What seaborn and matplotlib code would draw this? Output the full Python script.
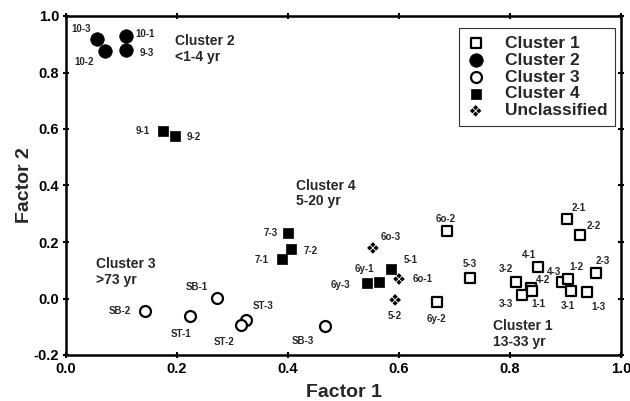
import numpy as np
import pandas as pd
import matplotlib
matplotlib.use("Agg")
import matplotlib.pyplot as plt
from matplotlib.path import Path
import seaborn as sns

# sample scores on the two factors
samples = ['10-3', '10-2', '10-1', '9-3',
           '9-1', '9-2', '7-3', '7-2', '7-1', '6y-3', '6y-1', '5-1',
           '6o-3', '6o-1', '5-2',
           'SB-2', 'ST-1', 'SB-1', 'ST-3', 'ST-2', 'SB-3',
           '6o-2', '2-1', '2-2', '5-3', '6y-2', '4-1', '3-2', '4-2', '3-3',
           '1-1', '4-3', '1-2', '3-1', '1-3', '2-3']
factor1 = [0.055, 0.070, 0.108, 0.109,
           0.175, 0.196, 0.400, 0.405, 0.389, 0.542, 0.564, 0.586,
           0.553, 0.600, 0.593,
           0.142, 0.223, 0.272, 0.324, 0.315, 0.467,
           0.686, 0.903, 0.926, 0.728, 0.668, 0.850, 0.811, 0.838, 0.822,
           0.840, 0.894, 0.905, 0.910, 0.939, 0.955]
factor2 = [0.917, 0.876, 0.930, 0.880,
           0.593, 0.575, 0.232, 0.175, 0.140, 0.055, 0.058, 0.104,
           0.179, 0.069, -0.005,
           -0.044, -0.062, 0.002, -0.076, -0.094, -0.097,
           0.239, 0.281, 0.225, 0.073, -0.012, 0.111, 0.058, 0.037, 0.012,
           0.027, 0.058, 0.069, 0.026, 0.023, 0.090]
cluster = (['Cluster 2'] * 4 + ['Cluster 4'] * 8 + ['Unclassified'] * 3
           + ['Cluster 3'] * 6 + ['Cluster 1'] * 15)

# label offsets (pixels) for each sample name
label_offsets = [(-15, 10), (-21, -11), (19, 2), (20, -3),
                 (-20, 0), (19, -1), (-17, 0), (20, -2), (-20, -1), (-26, -2), (-15, 13), (19, 9),
                 (18, 11), (24, 0), (0, -16),
                 (-25, 0), (-9, -18), (-20, 11), (17, 14), (-17, -17), (-22, -15),
                 (-1, 12), (12, 11), (14, 9), (0, 14), (0, -17), (-9, 12), (-10, 13), (12, 8), (-16, -9),
                 (6, -13), (-8, 10), (8, 12), (-3, -15), (11, -15), (7, 12)]

cluster_notes = ['Cluster 2\n<1-4 yr', 'Cluster 4\n5-20 yr', 'Cluster 3\n>73 yr', 'Cluster 1\n13-33 yr']
note_x = [0.196, 0.414, 0.054, 0.769]
note_y = [0.935, 0.424, 0.147, -0.073]

df = pd.DataFrame({'sample': samples, 'Factor 1': factor1,
                   'Factor 2': factor2, 'cluster': cluster})

# four small diamonds -> "unclassified" marker
verts, codes = [], []
for cx, cy in [(0.5, 0), (0, 0.5), (-0.5, 0), (0, -0.5)]:
    h = 0.4
    verts += [(cx + h, cy), (cx, cy + h), (cx - h, cy), (cx, cy - h), (cx + h, cy)]
    codes += [Path.MOVETO, Path.LINETO, Path.LINETO, Path.LINETO, Path.CLOSEPOLY]
quad_diamond = Path(verts, codes)

styles = {
    'Cluster 1': dict(marker='s', s=50, facecolor='white', edgecolor='black', linewidth=1.6),
    'Cluster 2': dict(marker='o', s=95, facecolor='black', edgecolor='black', linewidth=0.5),
    'Cluster 3': dict(marker='o', s=62, facecolor='white', edgecolor='black', linewidth=1.6),
    'Cluster 4': dict(marker='s', s=62, facecolor='black', edgecolor='black', linewidth=0.5),
    'Unclassified': dict(marker=quad_diamond, s=70, facecolor='black', edgecolor='none', linewidth=0),
}

sns.set_theme(style='ticks')
plt.rcParams['font.family'] = ['Liberation Sans', 'DejaVu Sans']
plt.rcParams['font.weight'] = 'bold'
plt.rcParams['axes.labelweight'] = 'bold'

fig = plt.figure(figsize=(6.3, 4.01), dpi=100)
ax = fig.add_axes([66 / 630, 1 - 355 / 401, 555 / 630, 339 / 401])

for name in ['Cluster 1', 'Cluster 2', 'Cluster 3', 'Cluster 4', 'Unclassified']:
    sub = df[df['cluster'] == name]
    sns.scatterplot(data=sub, x='Factor 1', y='Factor 2', ax=ax, label=name,
                    zorder=3, **styles[name])

for lab, x, y, off in zip(samples, factor1, factor2, label_offsets):
    ax.annotate(lab, (x, y), xytext=off, textcoords='offset pixels',
                ha='center', va='center', fontsize=7, fontweight='bold')

for txt, x, y in zip(cluster_notes, note_x, note_y):
    ax.text(x, y, txt, ha='left', va='top', fontsize=10, fontweight='bold',
            linespacing=1.15)

ax.set_xlim(0, 1.0)
ax.set_ylim(-0.2, 1.0)
ax.set_xticks(np.arange(0, 1.01, 0.2))
ax.set_yticks(np.arange(-0.2, 1.01, 0.2))
ax.set_xticklabels([f'{v:.1f}' for v in np.arange(0, 1.01, 0.2)])
ax.set_yticklabels([f'{v:.1f}' for v in np.arange(-0.2, 1.01, 0.2)])
ax.tick_params(direction='inout', length=4, width=1.5, top=True, right=True,
               labelsize=10.5, pad=3, colors='black')
for lbl in ax.get_xticklabels() + ax.get_yticklabels():
    lbl.set_fontweight('bold')
for sp in ax.spines.values():
    sp.set_linewidth(1.8)
    sp.set_color('black')
ax.set_xlabel('Factor 1', fontsize=14, fontweight='bold', labelpad=6)
ax.set_ylabel('Factor 2', fontsize=14, fontweight='bold')
ax.yaxis.set_label_coords(-0.06, 0.5)

leg = ax.legend(loc='upper right', bbox_to_anchor=(0.99, 0.965),
                frameon=True, fancybox=False, framealpha=1, edgecolor='0.2',
                borderaxespad=0, labelspacing=0.1, handletextpad=1.2,
                handlelength=1.0, borderpad=0.45,
                prop={'weight': 'bold', 'size': 12.5})
leg.get_frame().set_linewidth(0.8)

fig.savefig('out.png', dpi=100)
